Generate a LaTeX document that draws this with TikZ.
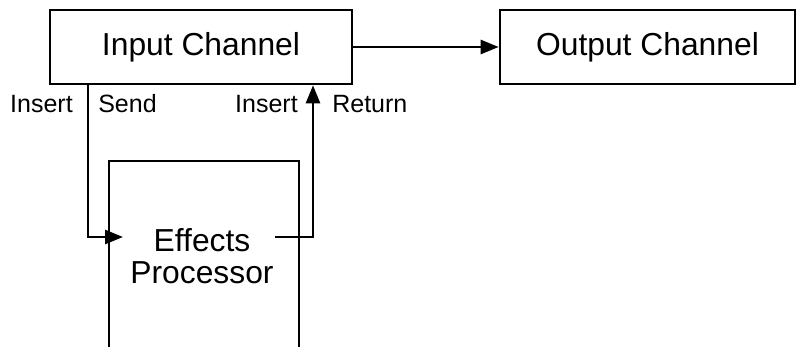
\documentclass[tikz,border=0pt]{standalone}
\usepackage{fontspec}
\setmainfont{Liberation Sans}
\usetikzlibrary{arrows.meta}
\begin{document}
\begin{tikzpicture}[x=1pt,y=-1pt,
  line width=2.6pt,
  box/.style={draw, rectangle, inner sep=0pt, font=\fontsize{31.8}{34}\selectfont},
  lbl/.style={inner sep=0pt, font=\fontsize{25}{28}\selectfont},
  arr/.style={-{Triangle[length=18pt,width=14pt]}},
]
\useasboundingbox (0,0) rectangle (796,347);

% channel boxes
\node[box, minimum width=302pt, minimum height=74pt] (in) at (201,47) {Input Channel};
\node[box, minimum width=295pt, minimum height=74pt] (out) at (647.5,47) {Output Channel};
\draw[arr] (in.east) -- (out.west);

% effects processor (open at the bottom)
\draw[line join=miter] (109,352) -- (109,161) -- (299,161) -- (299,352);
\node[inner sep=0pt, align=center, font=\fontsize{31.8}{32}\selectfont] (fx) at (202,256) {Effects\\Processor};

% insert send / return loop
\coordinate (sendx) at (88,0);
\coordinate (retx) at (313,0);
\coordinate (fxin) at (123,237);
\coordinate (fxout) at (275,237);
\draw[arr] (in.south -| sendx) |- (fxin);
\draw[arr] (fxout) -| (in.south -| retx);

% jack labels
\node[lbl, anchor=base east] (ins1) at (74,113) {Insert};
\node[lbl, anchor=base west] (send) at (97,113) {Send};
\node[lbl, anchor=base east] (ins2) at (299,113) {Insert};
\node[lbl, anchor=base west] (ret) at (331,113) {Return};
\end{tikzpicture}
\end{document}
